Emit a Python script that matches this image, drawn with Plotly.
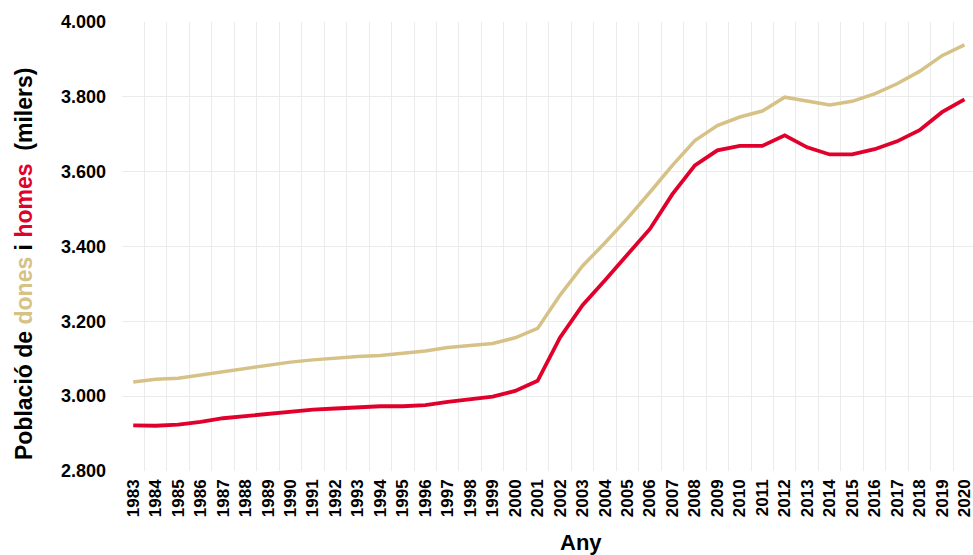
import plotly.graph_objects as go

years = [str(y) for y in range(1983, 2021)]
dones = [3038, 3045, 3048, 3057, 3066, 3075, 3083, 3091, 3097, 3102,
         3106, 3109, 3115, 3121, 3130, 3135, 3141, 3156, 3181, 3270,
         3348, 3410, 3475, 3545, 3617, 3683, 3723, 3746, 3762, 3799,
         3788, 3778, 3788, 3808, 3835, 3868, 3910, 3939]
homes = [2922, 2921, 2924, 2931, 2941, 2947, 2952, 2958, 2964, 2967,
         2970, 2973, 2973, 2976, 2985, 2991, 2999, 3014, 3041, 3157,
         3243, 3310, 3379, 3447, 3540, 3617, 3657, 3669, 3669, 3697,
         3665, 3646, 3646, 3660, 3681, 3711, 3759, 3793]
y_ticks = [2800, 3000, 3200, 3400, 3600, 3800, 4000]

TAN = "#D6C187"
RED = "#E1002B"
FONT = "Arial, Liberation Sans, sans-serif"

fig = go.Figure()
fig.add_trace(go.Scatter(x=years, y=dones, mode="lines", name="dones",
                         line=dict(color=TAN, width=3.5)))
fig.add_trace(go.Scatter(x=years, y=homes, mode="lines", name="homes",
                         line=dict(color=RED, width=3.8)))

fig.update_layout(
    width=973, height=555,
    margin=dict(l=122, r=0, t=22, b=84),
    paper_bgcolor="white", plot_bgcolor="white",
    showlegend=False,
    separators=",.",
    font=dict(family=FONT, color="black"),
    xaxis=dict(
        type="category", tickson="boundaries",
        showgrid=True, gridcolor="#EBEBEB", gridwidth=1,
        tickangle=-90, ticks="", automargin=False,
        ticklabelstandoff=4,
        tickfont=dict(size=17, family=FONT, weight="bold"),
        showline=False, zeroline=False,
        range=[-0.5, 37.38],
    ),
    yaxis=dict(
        range=[2800, 4000], tickvals=y_ticks, tickformat=",.0f",
        showgrid=True, gridcolor="#EBEBEB", gridwidth=1,
        zeroline=False, showline=False, ticks="", automargin=False,
        ticklabelstandoff=15,
        tickfont=dict(size=18, family=FONT, weight="bold"),
    ),
    annotations=[
        dict(text="<b>Any</b>", xref="paper", yref="paper",
             x=(581 - 122) / 851, y=-(542 - 471) / 449,
             xanchor="center", yanchor="middle", showarrow=False,
             font=dict(size=22, family=FONT, color="black")),
        dict(text=("<b>Població de <span style='color:%s'>dones</span> i "
                   "<span style='color:%s'>homes</span>  (milers)</b>") % (TAN, RED),
             xref="paper", yref="paper", textangle=-90,
             x=-(122 - 24) / 851, y=(471 - 264) / 449,
             xanchor="center", yanchor="middle", showarrow=False,
             font=dict(size=23, family=FONT, color="black")),
    ],
)

fig.write_html("out.html", config={"displayModeBar": False},
               post_script="document.body.style.margin='0';document.body.style.padding='0';")
